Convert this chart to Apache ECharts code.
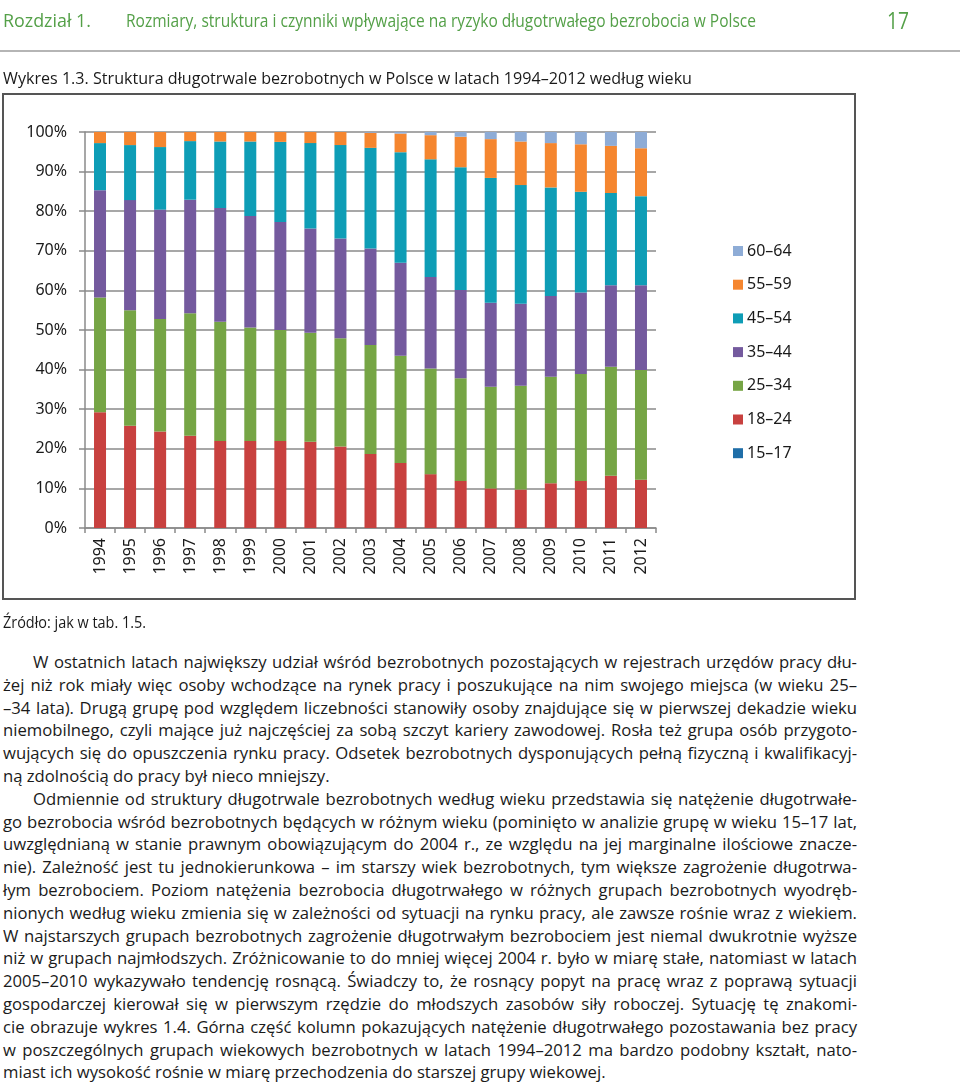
<!DOCTYPE html>
<html>
<head>
<meta charset="utf-8">
<script src="https://cdn.jsdelivr.net/npm/echarts@6/dist/echarts.min.js"></script>
<style>
html,body{margin:0;padding:0;background:#fff;}
body{width:960px;height:1084px;position:relative;overflow:hidden;font-family:'Open Sans','Noto Sans',sans-serif;color:#1a1a1a;}
.fit{position:absolute;white-space:nowrap;transform-origin:0 0;line-height:1;}
#hdr1,#hdr2,#pg{color:#54a048;}
#rule{position:absolute;left:0;top:50px;width:960px;height:2px;background:#b5b5b5;}
#box{position:absolute;left:2px;top:93px;width:854px;height:507px;border:2px solid #555;box-sizing:border-box;pointer-events:none;}
#chart{position:absolute;left:0;top:0;width:960px;height:620px;}
#body{position:absolute;left:3px;top:651px;transform-origin:0 0;}
#body .ln{height:22.8px;line-height:22.8px;white-space:nowrap;overflow:visible;}
#body .ln span{display:inline-block;white-space:nowrap;}
</style>
</head>
<body>
<div id="chart"></div>
<div id="box"></div>
<div id="rule"></div>
<div class="fit" id="hdr1" data-w="88" style="left:3px;top:11px;font-size:18px;">Rozdział 1.</div>
<div class="fit" id="hdr2" data-w="630" style="left:126px;top:11px;font-size:18px;">Rozmiary, struktura i czynniki wpływające na ryzyko długotrwałego bezrobocia w Polsce</div>
<div class="fit" id="pg" data-w="22" style="left:887px;top:8px;font-size:24px;">17</div>
<div class="fit" id="ttl" data-w="689" style="left:3px;top:69px;font-size:17px;">Wykres 1.3. Struktura długotrwale bezrobotnych w Polsce w latach 1994–2012 według wieku</div>
<div class="fit" id="src" data-w="143" style="left:3px;top:614px;font-size:16px;">Źródło: jak w tab. 1.5.</div>
<div id="body"></div>
<script>
// ---- data ----
const years = ['1994','1995','1996','1997','1998','1999','2000','2001','2002','2003','2004','2005','2006','2007','2008','2009','2010','2011','2012'];
const groupNames = ['15–17','18–24','25–34','35–44','45–54','55–59','60–64'];
const age1517 = [0,0,0,0,0,0,0,0,0,0,0,0,0,0,0,0,0,0,0];
const age1824 = [29.2,25.8,24.4,23.3,22.0,22.0,22.0,21.8,20.6,18.7,16.4,13.6,11.9,10.0,9.7,11.3,11.9,13.2,12.2];
const age2534 = [29.0,29.2,28.4,30.9,30.1,28.6,28.0,27.5,27.3,27.5,27.1,26.7,25.9,25.7,26.2,26.9,27.0,27.5,27.7];
const age3544 = [27.1,27.8,27.6,28.7,28.7,28.2,27.3,26.3,25.2,24.4,23.5,23.1,22.3,21.2,20.7,20.4,20.6,20.6,21.4];
const age4554 = [11.9,13.9,15.8,14.8,16.8,18.8,20.2,21.6,23.6,25.4,27.9,29.7,31.0,31.5,30.0,27.4,25.4,23.3,22.5];
const age5559 = [2.8,3.3,3.8,2.3,2.4,2.4,2.5,2.8,3.3,3.8,4.7,6.1,7.7,9.8,11.0,11.2,12.0,11.9,12.1];
const age6064 = [0,0,0,0,0,0,0,0,0,0.2,0.4,0.8,1.2,1.8,2.4,2.8,3.1,3.5,4.1];
const groupValues = [age1517,age1824,age2534,age3544,age4554,age5559,age6064];
const groupColors = ['#1f6ea8','#c8413f','#76a545','#745a9e','#0e9db6','#f5862f','#8eacd6'];

const bodyLines = [
  ['W ostatnich latach największy udział wśród bezrobotnych pozostających w rejestrach urzędów pracy dłu-', 'first'],
  ['żej niż rok miały więc osoby wchodzące na rynek pracy i poszukujące na nim swojego miejsca (w wieku 25–', ''],
  ['–34 lata). Drugą grupę pod względem liczebności stanowiły osoby znajdujące się w pierwszej dekadzie wieku', ''],
  ['niemobilnego, czyli mające już najczęściej za sobą szczyt kariery zawodowej. Rosła też grupa osób przygoto-', ''],
  ['wujących się do opuszczenia rynku pracy. Odsetek bezrobotnych dysponujących pełną fizyczną i kwalifikacyj-', ''],
  ['ną zdolnością do pracy był nieco mniejszy.', 'last'],
  ['Odmiennie od struktury długotrwale bezrobotnych według wieku przedstawia się natężenie długotrwałe-', 'first'],
  ['go bezrobocia wśród bezrobotnych będących w różnym wieku (pominięto w analizie grupę w wieku 15–17 lat,', ''],
  ['uwzględnianą w stanie prawnym obowiązującym do 2004 r., ze względu na jej marginalne ilościowe znacze-', ''],
  ['nie). Zależność jest tu jednokierunkowa – im starszy wiek bezrobotnych, tym większe zagrożenie długotrwa-', ''],
  ['łym bezrobociem. Poziom natężenia bezrobocia długotrwałego w różnych grupach bezrobotnych wyodręb-', ''],
  ['nionych według wieku zmienia się w zależności od sytuacji na rynku pracy, ale zawsze rośnie wraz z wiekiem.', ''],
  ['W najstarszych grupach bezrobotnych zagrożenie długotrwałym bezrobociem jest niemal dwukrotnie wyższe', ''],
  ['niż w grupach najmłodszych. Zróżnicowanie to do mniej więcej 2004 r. było w miarę stałe, natomiast w latach', ''],
  ['2005–2010 wykazywało tendencję rosnącą. Świadczy to, że rosnący popyt na pracę wraz z poprawą sytuacji', ''],
  ['gospodarczej kierował się w pierwszym rzędzie do młodszych zasobów siły roboczej. Sytuację tę znakomi-', ''],
  ['cie obrazuje wykres 1.4. Górna część kolumn pokazujących natężenie długotrwałego pozostawania bez pracy', ''],
  ['w poszczególnych grupach wiekowych bezrobotnych w latach 1994–2012 ma bardzo podobny kształt, nato-', ''],
  ['miast ich wysokość rośnie w miarę przechodzenia do starszej grupy wiekowej.', 'last']
];

// ---- chart ----
const chart = echarts.init(document.getElementById('chart'), null, {renderer:'canvas'});
const gridCol = '#8a8a8a';
const fontFam = "'Noto Sans', 'Open Sans', sans-serif";
chart.setOption({
  animation:false,
  textStyle:{fontFamily:fontFam},
  grid:{left:85, right:304, top:132, bottom:92, containLabel:false},
  legend:{
    data: groupNames.slice().reverse(),
    orient:'vertical', left:733, top:243,
    itemWidth:10, itemHeight:10, itemGap:17.7, icon:'rect', padding:0,
    selectedMode:false,
    textStyle:{fontSize:16, color:'#1a1a1a', fontFamily:fontFam, padding:[0,0,0,-1]}
  },
  xAxis:{
    type:'category', data:years,
    axisLine:{lineStyle:{color:gridCol, width:1.5}},
    axisTick:{show:true, length:5, alignWithLabel:false, interval:0, lineStyle:{color:gridCol, width:1.5}},
    axisLabel:{rotate:90, interval:0, fontSize:16, color:'#1a1a1a', margin:10, fontFamily:fontFam}
  },
  yAxis:{
    type:'value', min:0, max:100, interval:10,
    axisLine:{show:true, lineStyle:{color:gridCol, width:1.5}},
    axisTick:{show:true, length:6, lineStyle:{color:gridCol, width:1.5}},
    splitLine:{show:true, lineStyle:{color:gridCol, width:1.5}},
    axisLabel:{formatter:'{value}%', fontSize:16, color:'#1a1a1a', margin:18, fontFamily:fontFam}
  },
  series: groupNames.map((n,i)=>({
    name:n, type:'bar', stack:'total', barWidth:12,
    data: groupValues[i],
    itemStyle:{color:groupColors[i]}
  }))
});

// ---- text fitting ----
document.querySelectorAll('.fit').forEach(el=>{
  const target = parseFloat(el.dataset.w);
  const w = el.getBoundingClientRect().width;
  if (w>0) el.style.transform = 'scaleX(' + (target/w) + ')';
});

const body = document.getElementById('body');
const FULL = 854, INDENT = 30;
const fs = 17;
body.style.fontSize = fs + 'px';
const rows = bodyLines.map(([t,kind])=>{
  const d = document.createElement('div');
  d.className = 'ln';
  const s = document.createElement('span');
  s.textContent = t;
  d.appendChild(s);
  body.appendChild(d);
  return {d,s,kind};
});
// uniform horizontal compression so the longest line fits
let R = 0;
rows.forEach(r=>{
  const avail = FULL - (r.kind==='first'?INDENT:0);
  const w = r.s.getBoundingClientRect().width;
  R = Math.max(R, w/avail);
});
const sx = Math.min(1, 0.99/R);
body.style.width = (FULL/sx) + 'px';
body.style.transform = 'scaleX(' + sx + ')';
rows.forEach(r=>{
  const ind = r.kind==='first' ? INDENT/sx : 0;
  if (ind) r.d.style.paddingLeft = ind + 'px';
  if (r.kind==='last') return;
  const avail = FULL/sx - ind;
  const w = r.s.getBoundingClientRect().width / sx;
  const spaces = (r.s.textContent.match(/ /g)||[]).length;
  if (spaces>0) r.s.style.wordSpacing = ((avail - w)/spaces) + 'px';
});
</script>
</body>
</html>
